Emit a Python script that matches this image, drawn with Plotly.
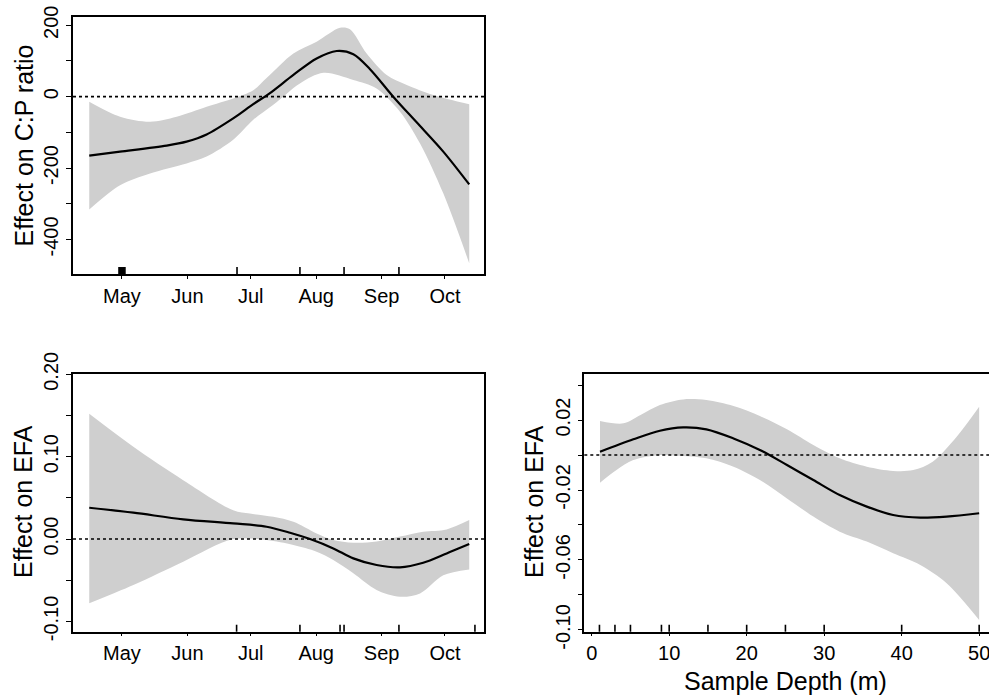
import plotly.graph_objects as go

# ---------------- data ----------------
month_days = [121, 152, 182, 213, 244, 274]
month_labels = ["May", "Jun", "Jul", "Aug", "Sep", "Oct"]

# Panel A: Effect on C:P ratio vs day of year
cp_fit_x = [105.5, 120.1, 142.2, 151.6, 161.1, 173.7, 183.2, 191.1, 202.2, 213.2, 222.7, 230.6, 238.5, 249.5, 260.6, 273.2, 285.5]
cp_fit_y = [-165, -154, -137, -126, -106, -61, -21, 10, 61, 107, 128, 119, 77, 0, -72, -154, -246]
cp_up_x = [105.5, 120.1, 134.3, 146.9, 161.1, 173.7, 183.2, 189.5, 202.2, 213.2, 224.3, 229.0, 236.9, 246.4, 255.9, 268.5, 285.5]
cp_up_y = [-14, -56, -70, -56, -28, -5, 18, 52, 121, 154, 193, 189, 121, 61, 33, 5, -21]
cp_lo_x = [105.5, 120.1, 134.3, 151.6, 161.1, 173.7, 183.2, 192.7, 205.3, 216.4, 230.6, 241.6, 252.7, 262.2, 273.2, 285.5]
cp_lo_y = [-316, -248, -215, -187, -168, -121, -65, -23, 37, 67, 47, 23, -42, -131, -271, -467]
cp_rug = [119.6, 120.0, 120.4, 120.8, 121.2, 121.6, 122.0, 122.4, 175.5, 205.3, 226.2, 252.2]
cp_yticks = [-400, -300, -200, -100, 0, 100, 200]
cp_yticktext = ["-400", "", "-200", "", "0", "", "200"]

# Panel B: Effect on EFA vs day of year
efa_fit_x = [105.5, 126.4, 150.0, 173.7, 189.5, 200.6, 210.1, 221.1, 230.6, 241.6, 252.7, 263.7, 274.8, 285.5]
efa_fit_y = [0.038, 0.032, 0.024, 0.019, 0.015, 0.0077, 0.0, -0.0113, -0.0234, -0.0315, -0.0343, -0.0287, -0.0174, -0.0061]
efa_up_x = [105.5, 126.4, 150.0, 173.7, 181.6, 192.7, 202.2, 213.2, 221.1, 230.6, 241.6, 252.7, 263.7, 274.8, 285.5]
efa_up_y = [0.152, 0.112, 0.0715, 0.035, 0.031, 0.027, 0.021, 0.0069, -0.001, -0.0044, -0.003, 0.003, 0.0089, 0.0117, 0.023]
efa_lo_x = [105.5, 126.4, 150.0, 173.7, 189.5, 202.2, 213.2, 221.1, 230.6, 241.6, 252.7, 262.2, 273.2, 285.5]
efa_lo_y = [-0.078, -0.0558, -0.0275, 0.0, -0.0012, -0.0073, -0.0154, -0.0255, -0.0416, -0.0618, -0.070, -0.066, -0.0440, -0.0368]
efa_rug = [175.3, 205.3, 224.3, 226.2, 252.2, 288.2]
efa_yticks = [-0.10, -0.05, 0.0, 0.05, 0.10, 0.15, 0.20]
efa_yticktext = ["-0.10", "", "0.00", "", "0.10", "", "0.20"]

# Panel C: Effect on EFA vs sample depth
dep_fit_x = [1.07, 5.37, 8.8, 11.8, 14.8, 18.3, 21.7, 25.2, 28.6, 32.0, 35.5, 38.9, 42.4, 45.8, 50.0]
dep_fit_y = [0.0019, 0.009, 0.0139, 0.0158, 0.0147, 0.0095, 0.0029, -0.0057, -0.0143, -0.0229, -0.0295, -0.0343, -0.0358, -0.0352, -0.0333]
dep_up_x = [1.07, 4.1, 6.3, 8.8, 11.8, 14.8, 18.3, 21.7, 25.2, 28.6, 32.0, 35.5, 38.9, 41.5, 44.0, 47.1, 50.0]
dep_up_y = [0.0194, 0.0181, 0.0229, 0.0286, 0.0318, 0.0314, 0.028, 0.0223, 0.0147, 0.0057, -0.0019, -0.0067, -0.0091, -0.0086, -0.0038, 0.0105, 0.0276]
dep_lo_x = [1.07, 3.2, 5.37, 8.8, 11.8, 14.8, 18.3, 21.7, 25.2, 28.6, 32.0, 35.5, 38.9, 42.4, 45.8, 50.0]
dep_lo_y = [-0.0158, -0.0086, -0.0029, 0.0, -0.0006, -0.0019, -0.0067, -0.0143, -0.0248, -0.0352, -0.0438, -0.0495, -0.0562, -0.0629, -0.0733, -0.0943]
dep_rug = [1, 3, 5, 9, 10, 15, 20, 25, 30, 40, 50]
dep_xticks = [0, 10, 20, 30, 40, 50]
dep_yticks = [-0.10, -0.08, -0.06, -0.04, -0.02, 0.0, 0.02, 0.04]
dep_yticktext = ["-0.10", "", "-0.06", "", "-0.02", "", "0.02", ""]

# ---------------- figure ----------------
FONT = "Liberation Sans, Arial, sans-serif"
BAND = "#cfcfcf"
fig = go.Figure()

panels = [
    ("x", "y", cp_fit_x, cp_fit_y, cp_up_x, cp_up_y, cp_lo_x, cp_lo_y),
    ("x2", "y2", efa_fit_x, efa_fit_y, efa_up_x, efa_up_y, efa_lo_x, efa_lo_y),
    ("x3", "y3", dep_fit_x, dep_fit_y, dep_up_x, dep_up_y, dep_lo_x, dep_lo_y),
]
for xa, ya, fx, fy, ux, uy, lx, ly in panels:
    fig.add_trace(go.Scatter(x=lx, y=ly, mode="lines", line=dict(width=0, color=BAND, shape="spline", smoothing=0.9),
                             xaxis=xa, yaxis=ya, showlegend=False, hoverinfo="skip"))
    fig.add_trace(go.Scatter(x=ux, y=uy, mode="lines", line=dict(width=0, color=BAND, shape="spline", smoothing=0.9),
                             fill="tonexty", fillcolor=BAND, xaxis=xa, yaxis=ya, showlegend=False, hoverinfo="skip"))
    fig.add_trace(go.Scatter(x=fx, y=fy, mode="lines", line=dict(width=2.2, color="black", shape="spline", smoothing=0.9),
                             xaxis=xa, yaxis=ya, showlegend=False))

shapes = []
for xa, ya in [("x", "y"), ("x2", "y2"), ("x3", "y3")]:
    shapes.append(dict(type="line", xref=xa + " domain", yref=ya, x0=0, x1=1, y0=0, y1=0,
                       line=dict(color="black", width=1.6, dash="dot")))
for xa, ya, rug in [("x", "y", cp_rug), ("x2", "y2", efa_rug), ("x3", "y3", dep_rug)]:
    for r in rug:
        shapes.append(dict(type="line", xref=xa, yref=ya + " domain", x0=r, x1=r, y0=0, y1=0.027,
                           line=dict(color="black", width=1.6)))

tickfont = dict(family=FONT, size=20, color="black")
common_ax = dict(showgrid=False, zeroline=False, showline=True, linecolor="black", linewidth=1.6,
                 ticks="outside", tickcolor="black", tickwidth=1.4, tickfont=tickfont, automargin=False,
                 ticklabeloverflow="allow")

title_font = dict(family=FONT, size=25, color="black")
fig.update_layout(
    width=989, height=699,
    margin=dict(l=0, r=0, t=0, b=0, autoexpand=False),
    paper_bgcolor="white", plot_bgcolor="white",
    font=dict(family=FONT, color="black"),
    shapes=shapes,
    xaxis=dict(domain=[0.0738, 0.4894], anchor="y", range=[97.8, 292.5], tickmode="array",
               tickvals=month_days, ticktext=month_labels, ticklen=3, mirror=True, **common_ax),
    yaxis=dict(domain=[0.6080, 0.9753], anchor="x", range=[-497, 222.5], tickmode="array",
               tickvals=cp_yticks, ticktext=cp_yticktext, tickangle=-90, ticklen=5, mirror=True, **common_ax),
    xaxis2=dict(domain=[0.0738, 0.4894], anchor="y2", range=[97.8, 292.5], tickmode="array",
                tickvals=month_days, ticktext=month_labels, ticklen=3, mirror=True, **common_ax),
    yaxis2=dict(domain=[0.0963, 0.4649], anchor="x2", range=[-0.1124, 0.2003], tickmode="array",
                tickvals=efa_yticks, ticktext=efa_yticktext, tickangle=-90, ticklen=5, mirror=True, **common_ax),
    xaxis3=dict(domain=[0.5908, 1.0], anchor="y3", range=[-0.955, 51.27], tickmode="array",
                tickvals=dep_xticks, ticklen=3, mirror=True, **common_ax),
    yaxis3=dict(domain=[0.0963, 0.4649], anchor="x3", range=[-0.101, 0.0463], tickmode="array",
                tickvals=dep_yticks, ticktext=dep_yticktext, tickangle=-90, ticklen=5, **common_ax),
    annotations=[
        dict(text="Effect on C:P ratio", xref="paper", yref="paper", x=23 / 989, y=1 - 145.5 / 699,
             xanchor="center", yanchor="middle", textangle=-90, showarrow=False, font=title_font),
        dict(text="Effect on EFA", xref="paper", yref="paper", x=23 / 989, y=1 - 502 / 699,
             xanchor="center", yanchor="middle", textangle=-90, showarrow=False, font=title_font),
        dict(text="Effect on EFA", xref="paper", yref="paper", x=534 / 989, y=1 - 502 / 699,
             xanchor="center", yanchor="middle", textangle=-90, showarrow=False, font=title_font),
        dict(text="Sample Depth (m)", xref="paper", yref="paper", x=(591.7 + 7.75 * 25) / 989, y=1 - 681 / 699,
             xanchor="center", yanchor="middle", showarrow=False, font=title_font),
    ],
)

fig.write_html("out.html")
